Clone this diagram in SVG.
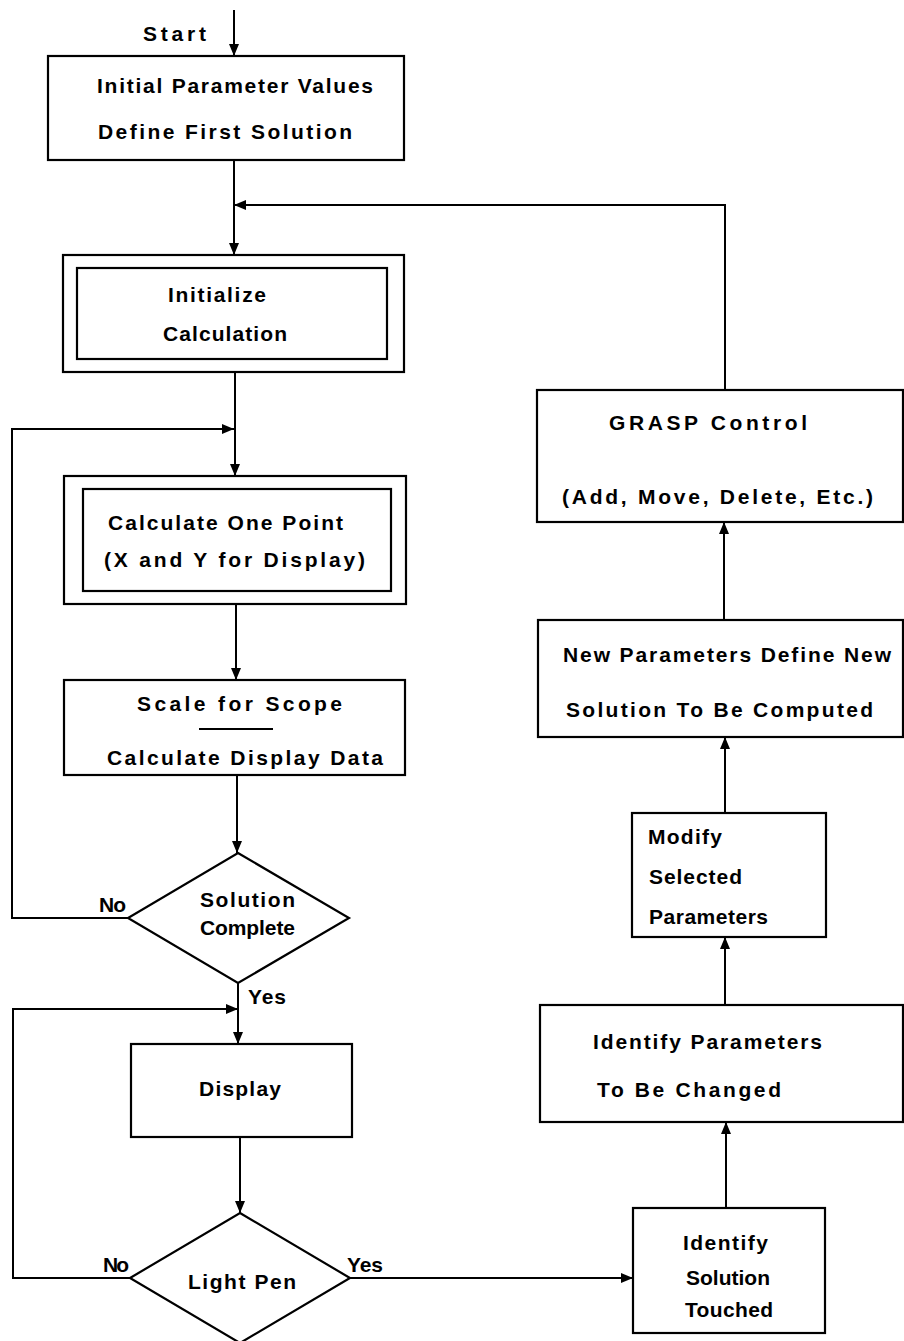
<svg xmlns="http://www.w3.org/2000/svg" width="904" height="1341" viewBox="0 0 904 1341">
  <style>
    .box { fill: #fff; stroke: #000; stroke-width: 2.2; }
    .ln { fill: none; stroke: #000; stroke-width: 2; }
    text { font-family: "Liberation Sans", Arial, sans-serif; font-size: 21px; font-weight: bold; fill: #000; }
  </style>
  <defs>
    <marker id="arr" viewBox="0 0 12 10" refX="12" refY="5" markerWidth="12" markerHeight="10" markerUnits="userSpaceOnUse" orient="auto">
      <path d="M0,0 L12,5 L0,10 Z" fill="#000"/>
    </marker>
  </defs>
  <rect width="904" height="1341" fill="#fff"/>

  <!-- connectors -->
  <g id="connectors">
    <path class="ln" d="M234,10 V56" marker-end="url(#arr)"/>
    <path class="ln" d="M234,160 V255" marker-end="url(#arr)"/>
    <path class="ln" d="M725,390 V205 H234" marker-end="url(#arr)"/>
    <path class="ln" d="M235,372 V476" marker-end="url(#arr)"/>
    <path class="ln" d="M128,918 H12 V429 H234" marker-end="url(#arr)"/>
    <path class="ln" d="M236,604 V680" marker-end="url(#arr)"/>
    <path class="ln" d="M237,775 V853" marker-end="url(#arr)"/>
    <path class="ln" d="M238,983 V1044" marker-end="url(#arr)"/>
    <path class="ln" d="M130,1278 H13 V1009 H238" marker-end="url(#arr)"/>
    <path class="ln" d="M240,1137 V1213" marker-end="url(#arr)"/>
    <path class="ln" d="M350,1278 H633" marker-end="url(#arr)"/>
    <path class="ln" d="M726,1208 V1122" marker-end="url(#arr)"/>
    <path class="ln" d="M725,1005 V937" marker-end="url(#arr)"/>
    <path class="ln" d="M725,813 V737" marker-end="url(#arr)"/>
    <path class="ln" d="M724,620 V522" marker-end="url(#arr)"/>
    <text x="143" y="41" textLength="63" lengthAdjust="spacing">Start</text>
    <text x="99" y="912" textLength="27" lengthAdjust="spacing">No</text>
    <text x="248" y="1004" textLength="38" lengthAdjust="spacing">Yes</text>
    <text x="103" y="1272" textLength="26" lengthAdjust="spacing">No</text>
    <text x="347" y="1272" textLength="36" lengthAdjust="spacing">Yes</text>
  </g>

  <g id="initial">
    <rect class="box" x="48" y="56" width="356" height="104"/>
    <text x="97" y="93" textLength="276" lengthAdjust="spacing">Initial Parameter Values</text>
    <text x="98" y="139" textLength="254" lengthAdjust="spacing">Define First Solution</text>
  </g>

  <g id="initialize">
    <rect class="box" x="63" y="255" width="341" height="117"/>
    <rect class="box" x="77" y="268" width="310" height="91"/>
    <text x="168" y="302" textLength="98" lengthAdjust="spacing">Initialize</text>
    <text x="163" y="341" textLength="124" lengthAdjust="spacing">Calculation</text>
  </g>

  <g id="calc-point">
    <rect class="box" x="64" y="476" width="342" height="128"/>
    <rect class="box" x="83" y="489" width="308" height="102"/>
    <text x="108" y="530" textLength="235" lengthAdjust="spacing">Calculate One Point</text>
    <text x="104" y="567" textLength="261" lengthAdjust="spacing">(X and Y for Display)</text>
  </g>

  <g id="scale">
    <rect class="box" x="64" y="680" width="341" height="95"/>
    <text x="137" y="711" textLength="205" lengthAdjust="spacing">Scale for Scope</text>
    <line class="ln" x1="199" y1="729" x2="273" y2="729"/>
    <text x="107" y="765" textLength="276" lengthAdjust="spacing">Calculate Display Data</text>
  </g>

  <g id="solution-complete">
    <polygon class="box" points="238,853 349,918 238,983 128,918"/>
    <text x="200" y="907" textLength="95" lengthAdjust="spacing" font-weight="normal">Solution</text>
    <text x="200" y="935" textLength="95" lengthAdjust="spacing" font-weight="normal">Complete</text>
  </g>

  <g id="display">
    <rect class="box" x="131" y="1044" width="221" height="93"/>
    <text x="199" y="1096" textLength="82" lengthAdjust="spacing">Display</text>
  </g>

  <g id="light-pen">
    <polygon class="box" points="240,1213 350,1278 240,1343 130,1278"/>
    <text x="188" y="1289" textLength="108" lengthAdjust="spacing">Light Pen</text>
  </g>

  <g id="identify-solution">
    <rect class="box" x="633" y="1208" width="192" height="125"/>
    <text x="683" y="1250" textLength="85" lengthAdjust="spacing">Identify</text>
    <text x="686" y="1285" textLength="84" lengthAdjust="spacing">Solution</text>
    <text x="685" y="1317" textLength="88" lengthAdjust="spacing">Touched</text>
  </g>

  <g id="identify-parameters">
    <rect class="box" x="540" y="1005" width="363" height="117"/>
    <text x="593" y="1049" textLength="229" lengthAdjust="spacing">Identify Parameters</text>
    <text x="597" y="1097" textLength="184" lengthAdjust="spacing">To Be Changed</text>
  </g>

  <g id="modify">
    <rect class="box" x="632" y="813" width="194" height="124"/>
    <text x="648" y="844" textLength="74" lengthAdjust="spacing">Modify</text>
    <text x="649" y="884" textLength="93" lengthAdjust="spacing">Selected</text>
    <text x="649" y="924" textLength="119" lengthAdjust="spacing">Parameters</text>
  </g>

  <g id="new-parameters">
    <rect class="box" x="538" y="620" width="365" height="117"/>
    <text x="563" y="662" textLength="328" lengthAdjust="spacing">New Parameters Define New</text>
    <text x="566" y="717" textLength="307" lengthAdjust="spacing">Solution To Be Computed</text>
  </g>

  <g id="grasp">
    <rect class="box" x="537" y="390" width="366" height="132"/>
    <text x="609" y="430" textLength="198" lengthAdjust="spacing">GRASP Control</text>
    <text x="562" y="504" textLength="311" lengthAdjust="spacing">(Add, Move, Delete, Etc.)</text>
  </g>
</svg>
